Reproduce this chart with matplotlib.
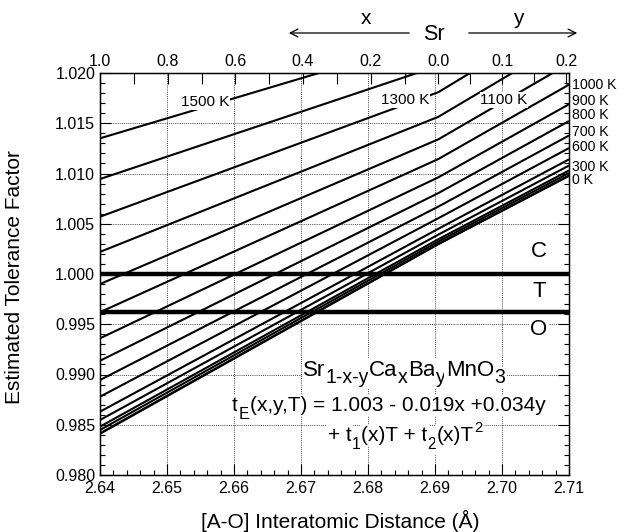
import matplotlib
matplotlib.use('Agg')
import matplotlib.pyplot as plt
from matplotlib.ticker import MultipleLocator, FixedLocator
from matplotlib.transforms import IdentityTransform

plt.rcParams['font.family'] = ['Liberation Sans', 'DejaVu Sans']

# ---------------- data ----------------
temps = [0, 100, 200, 300, 400, 500, 600, 700, 800, 900, 1000,
         1100, 1200, 1300, 1400, 1500]
# interatomic distance nodes: pure Ca (x=1), pure Sr, Ba y=0.2
d_nodes = [2.64, 2.6905, 2.71]
t_ca = [0.98415, 0.98410, 0.98448, 0.98481, 0.98547, 0.98630, 0.98779,
        0.98945, 0.99137, 0.99360, 0.99620, 0.99900, 1.00220, 1.00570,
        1.00945, 1.01350]
t_sr = [1.00300, 1.00297, 1.00323, 1.00346, 1.00392, 1.00450, 1.00555,
        1.00671, 1.00805, 1.00962, 1.01144, 1.01340, 1.01564, 1.01809,
        1.02071, 1.02355]
t_ba = [1.00980, 1.00976, 1.01005, 1.01030, 1.01079, 1.01141, 1.01253,
        1.01378, 1.01522, 1.01689, 1.01884, 1.02094, 1.02334, 1.02596,
        1.02878, 1.03181]

phase_bounds = [1.000, 0.9962]
phase_names = ['C', 'T', 'O']
phase_label_t = [1.00219, 0.99824, 0.99443]

# top composition axis
ca_x = [1.0, 0.9, 0.8, 0.7, 0.6, 0.5, 0.4, 0.3, 0.2, 0.1, 0.0]
ba_y = [0.05, 0.1, 0.15, 0.2]
top_labels_ca = {1.0: '1.0', 0.8: '0.8', 0.6: '0.6', 0.4: '0.4', 0.2: '0.2', 0.0: '0.0'}
top_labels_ba = {0.1: '0.1', 0.2: '0.2'}

right_labels = ['1000 K', '900 K', '800 K', '700 K', '600 K', '300 K', '0 K']
right_label_t = [1.01885, 1.01725, 1.01585, 1.01416, 1.01261, 1.01060, 1.00935]

inline_labels = ['1500 K', '1300 K', '1100 K']
inline_pos = [(2.65567, 1.01714), (2.68552, 1.01731), (2.70030, 1.01731)]

# ---------------- figure ----------------
fig = plt.figure(figsize=(6.24, 5.32), dpi=100)
ax = fig.add_axes([100 / 624, 57 / 532, 469 / 624, 402 / 532])
ax.set_xlim(2.64, 2.71)
ax.set_ylim(0.980, 1.020)

ax.xaxis.set_major_locator(MultipleLocator(0.01))
ax.xaxis.set_minor_locator(MultipleLocator(0.002))
ax.yaxis.set_major_locator(MultipleLocator(0.005))
ax.yaxis.set_minor_locator(MultipleLocator(0.001))
ax.set_xticklabels(['%.2f' % v for v in ax.get_xticks()])
ax.set_yticklabels(['%.3f' % v for v in ax.get_yticks()])
ax.tick_params(which='both', direction='in', top=False, right=True,
               labelsize=11.5, width=0.8)
ax.tick_params(which='major', length=8)
ax.tick_params(which='minor', length=3.8)
ax.tick_params(axis='x', pad=4)
ax.grid(True, which='major', linestyle=(0, (1, 1.2)), color='#444444', lw=0.7)
ax.set_axisbelow(True)
for s in ax.spines.values():
    s.set_linewidth(1.0)

for i, T in enumerate(temps):
    ax.plot(d_nodes, [t_ca[i], t_sr[i], t_ba[i]], color='black', lw=1.5,
            solid_capstyle='butt', zorder=3)

for b in phase_bounds:
    ax.axhline(b, color='black', lw=3.2, zorder=4)

# top composition axis
d_sr = 2.6905
def ca_to_d(x):
    return 2.64 + (d_sr - 2.64) * (1 - x)
def ba_to_d(y):
    return d_sr + 0.0955 * y
ax2 = ax.twiny()
ax2.set_xlim(ax.get_xlim())
tpos = [ca_to_d(x) for x in ca_x] + [ba_to_d(y) for y in ba_y]
tlab = [top_labels_ca.get(round(x, 2), '') for x in ca_x] + \
       [top_labels_ba.get(round(y, 2), '') for y in ba_y]
ax2.xaxis.set_major_locator(FixedLocator(tpos))
ax2.set_xticklabels(tlab)
ax2.tick_params(direction='in', length=8, width=0.8, labelsize=11.5, pad=3)
ax2.tick_params(which='minor', top=False)

# axis titles
fig.text(15 / 624, 1 - 277 / 532, 'Estimated Tolerance Factor', rotation=90,
         ha='center', va='center', fontsize=15)
fig.text(340 / 624, 1 - 521 / 532, '[A-O] Interatomic Distance (Å)',
         ha='center', va='center', fontsize=15)

for lab, tv in zip(right_labels, right_label_t):
    ax.text(2.7104, tv, lab, ha='left', va='center', fontsize=10.2,
            clip_on=False)

for lab, (dx, ty) in zip(inline_labels, inline_pos):
    ax.text(dx, ty, lab, ha='center', va='center', fontsize=11, zorder=6,
            bbox=dict(facecolor='white', edgecolor='none', pad=0.5))

box = dict(facecolor='white', edgecolor='none', pad=1.0)
for name, tv in zip(phase_names, phase_label_t):
    ax.text(2.70552, tv, name, ha='center', va='center', fontsize=16,
            zorder=6, bbox=box)

# formula block: pieces laid out one after another (text, size factor, shift in em)
renderer = fig.canvas.get_renderer()
def rich(x_px, y_px, parts, fs):
    x = x_px
    y = 532 - y_px
    for s, scale, shift in parts:
        t = ax.text(x, y + shift * fs * 100 / 72, s, transform=IdentityTransform(),
                    fontsize=fs * scale, ha='left', va='baseline', zorder=6,
                    bbox=dict(facecolor='white', edgecolor='none', pad=1.0))
        bb = t.get_window_extent(renderer)
        x = bb.x1 + 0.3

rich(303, 376, [('Sr', 1, 0), ('1-x-y', 0.88, -0.33), ('Ca', 1, 0),
                ('x', 0.88, -0.33), ('Ba', 1, 0), ('y', 0.88, -0.33),
                ('MnO', 1, 0), ('3', 0.88, -0.33)], 16)
rich(232, 411, [('t', 1, 0), ('E', 0.8, -0.4),
                ('(x,y,T) = 1.003 - 0.019x +0.034y', 1, 0)], 15)
rich(328, 441, [('+ t', 1, 0), ('1', 0.75, -0.4), ('(x)T + t', 1, 0),
                ('2', 0.75, -0.4), ('(x)T', 1, 0), ('2', 0.72, 0.42)], 15)

# composition annotation above the top axis
fig.text(366 / 624, 1 - 18 / 532, 'x', ha='center', va='center', fontsize=15)
fig.text(518 / 624, 1 - 18 / 532, 'y', ha='center', va='center', fontsize=15)
fig.text(434 / 624, 1 - 35 / 532, 'Sr', ha='center', va='center', fontsize=15.5)
ax.annotate('', xy=(286, 532 - 33), xytext=(412, 532 - 33),
            xycoords='figure pixels', textcoords='figure pixels',
            arrowprops=dict(arrowstyle='->', lw=0.9, color='black',
                            mutation_scale=14))
ax.annotate('', xy=(580, 532 - 33), xytext=(466, 532 - 33),
            xycoords='figure pixels', textcoords='figure pixels',
            arrowprops=dict(arrowstyle='->', lw=0.9, color='black',
                            mutation_scale=14))

fig.savefig('out.png', dpi=100)
